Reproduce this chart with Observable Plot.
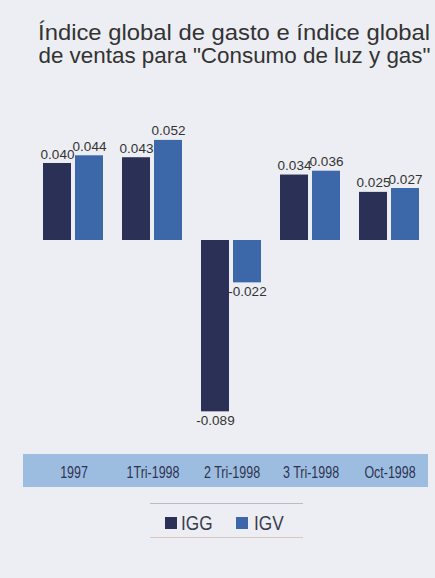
<!DOCTYPE html>
<html>
<head>
<meta charset="utf-8">
<script src="https://cdn.jsdelivr.net/npm/d3@7"></script>
<script src="https://cdn.jsdelivr.net/npm/@observablehq/plot@0.6"></script>
<style>
  html, body { margin: 0; padding: 0; background: #eceef3; }
  #wrap { position: relative; width: 435px; height: 578px; overflow: hidden; background: #eceef3; }
  #title { position: absolute; left: 30px; width: 408px; top: 21px; text-align: center;
    font-family: "Liberation Sans", Arial, sans-serif; font-size: 22px; line-height: 23px; color: #333; }
  #title span { display: inline-block; transform-origin: center; }
  #band { position: absolute; left: 23px; top: 454px; width: 405px; height: 33px; background: #9dbde0; }
  #chart { position: absolute; left: 0; top: 85px; }
  .lline { position: absolute; left: 150px; width: 153px; height: 1px; }
  .sw { position: absolute; width: 12px; height: 12px; top: 517px; }
  .lt { position: absolute; top: 512px; font-family: "Liberation Sans", Arial, sans-serif;
    font-size: 20px; line-height: 22px; color: #3a3c50; transform: scaleX(0.86); transform-origin: left center; }
</style>
</head>
<body>
<div id="wrap">
  <div id="title"><span id="t1">Índice global de gasto e índice global</span><br><span id="t2">de ventas para "Consumo de luz y gas"</span></div>
  <div id="band"></div>
  <div id="chart"></div>
  <div class="lline" style="top:503px;background:#b9bcc6"></div>
  <div class="lline" style="top:537px;background:#dcc9bd"></div>
  <div id="legend"></div>
</div>
<script>
const categories = ["1997", "1Tri-1998", "2 Tri-1998", "3 Tri-1998", "Oct-1998"];
const series = ["IGG", "IGV"];
const igg = [0.040, 0.043, -0.089, 0.034, 0.025];
const igv = [0.044, 0.052, -0.022, 0.036, 0.027];
const colors = ["#2b3056", "#3c68a9"];

const data = categories.flatMap((c, i) => [
  {cat: c, series: "IGG", value: igg[i]},
  {cat: c, series: "IGV", value: igv[i]}
]);
const fmt = v => v.toFixed(3);
const labelFont = "Liberation Sans, Arial, sans-serif";

const chart = Plot.plot({
  width: 435,
  height: 493,
  marginTop: 39.5,
  marginBottom: 145.5,
  marginLeft: 32,
  marginRight: 3.5,
  style: {background: "transparent", overflow: "visible"},
  fx: {domain: categories, padding: 0, axis: null, label: null},
  x: {domain: series, paddingInner: 0.121, paddingOuter: 0.273, axis: null},
  y: {domain: [-0.1, 0.06], axis: null},
  color: {domain: series, range: colors},
  marks: [
    Plot.barY(data, {fx: "cat", x: "series", y: "value", fill: "series"}),
    Plot.text(data.filter(d => d.value >= 0), {
      fx: "cat", x: "series", y: "value", text: d => fmt(d.value),
      lineAnchor: "bottom", dy: -5, fontSize: 13.5, fontFamily: labelFont, fill: "#333"
    }),
    Plot.text(data.filter(d => d.value < 0), {
      fx: "cat", x: "series", y: "value", text: d => fmt(d.value),
      lineAnchor: "top", dy: 4, fontSize: 13.5, fontFamily: labelFont, fill: "#333"
    }),
    Plot.axisFx({
      anchor: "bottom", tickSize: 0, tickPadding: 33.5, label: null,
      fontSize: 16, fontFamily: labelFont, color: "#2f3350"
    })
  ]
});
document.getElementById("chart").appendChild(chart);

// condense the category labels horizontally, about their own centre
chart.querySelectorAll('g[aria-label="fx-axis tick label"] text').forEach(t => {
  const b = t.getBBox();
  const cx = b.x + b.width / 2;
  const prev = t.getAttribute("transform") || "";
  t.setAttribute("transform", `${prev} translate(${cx},0) scale(0.78,1) translate(${-cx},0)`);
});

// legend
const legend = document.getElementById("legend");
const swX = [165, 236], txX = [181, 254];
series.forEach((s, i) => {
  const sw = document.createElement("div");
  sw.className = "sw"; sw.style.left = swX[i] + "px"; sw.style.background = colors[i];
  legend.appendChild(sw);
  const t = document.createElement("div");
  t.className = "lt"; t.style.left = txX[i] + "px"; t.textContent = s;
  legend.appendChild(t);
});

// fit title lines to the measured width of the reference
const target = 392;
["t1", "t2"].forEach(id => {
  const el = document.getElementById(id);
  const w = el.getBoundingClientRect().width;
  el.style.transform = `scaleX(${target / w})`;
});
</script>
</body>
</html>
